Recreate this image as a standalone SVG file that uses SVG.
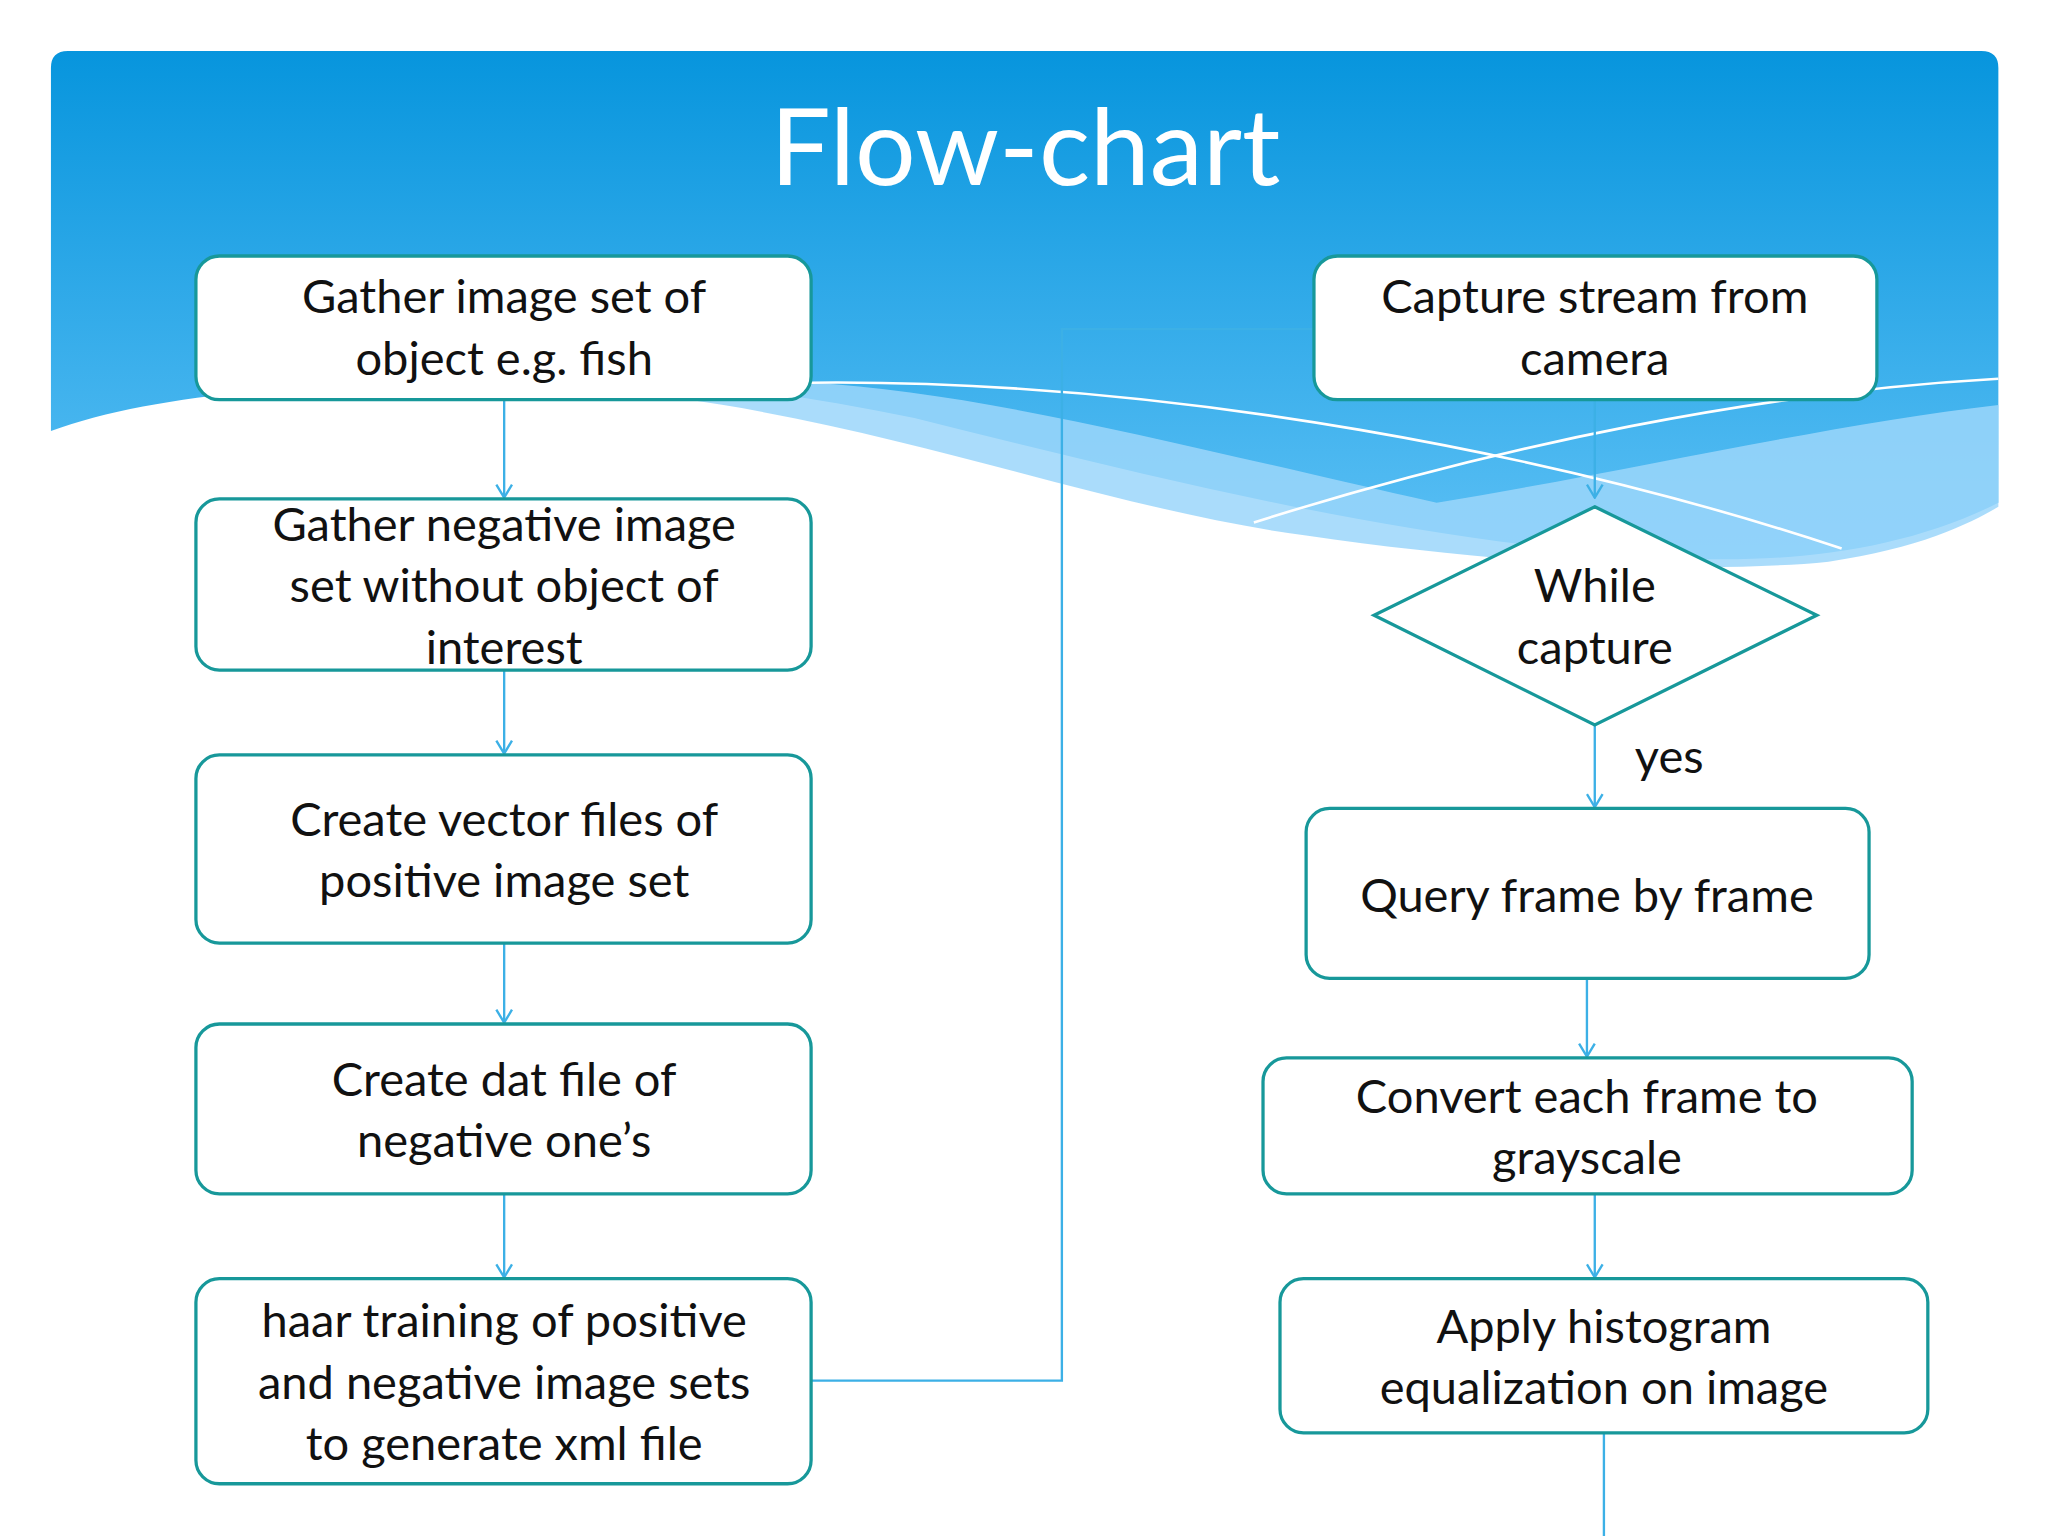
<svg xmlns="http://www.w3.org/2000/svg" width="2048" height="1536" viewBox="0 0 2048 1536">
<style>
.box{fill:#fff;stroke:#17989a;stroke-width:2.5}
.t{font-family:Lato,"Open Sans",sans-serif;font-size:36px;fill:#111;text-anchor:middle}
.c{fill:none;stroke:#3cb0e6;stroke-width:1.8}
</style>
<defs>
<linearGradient id="g" x1="0" y1="0" x2="0" y2="1">
<stop offset="0" stop-color="#0795dd"/><stop offset="1" stop-color="#5cc0f5"/>
</linearGradient>
<marker id="a" viewBox="0 0 12 14" refX="11" refY="7" markerWidth="12" markerHeight="14" markerUnits="userSpaceOnUse" orient="auto">
<path d="M1,1 L11,7 L1,13" fill="none" stroke="#3cb0e6" stroke-width="1.8"/>
</marker>
</defs>
<rect width="2048" height="1536" fill="#fff"/>
<g transform="scale(1.30612)">
<g id="background">
<path d="M39,52 Q39,39 52,39 L1517,39 Q1530,39 1530,52 L1530,385 C1460,420 1380,430 1300,428 C1100,420 900,370 700,320 C600,300 500,285 400,290 C250,292 120,300 39,330 Z" fill="url(#g)"/>
<path d="M520,305 C700,330 850,390 1000,410 C1150,432 1300,440 1400,430 C1470,420 1510,400 1530,388 L1530,310 C1400,325 1250,360 1100,385 C900,340 750,300 620,293 Z" fill="#9bd6fa" opacity="0.85"/>
<path d="M620,293 C900,290 1200,350 1410,420" fill="none" stroke="#fff" stroke-width="2"/>
<path d="M960,400 C1150,340 1350,300 1530,290" fill="none" stroke="#fff" stroke-width="2"/>
<text x="785" y="142" font-family="Lato,'Open Sans',sans-serif" font-size="82" fill="#fff" text-anchor="middle">Flow-chart</text>
</g>
<g id="connectors">
<line class="c" x1="386" y1="306" x2="386" y2="381" marker-end="url(#a)"/>
<line class="c" x1="386" y1="513" x2="386" y2="577" marker-end="url(#a)"/>
<line class="c" x1="386" y1="722" x2="386" y2="783" marker-end="url(#a)"/>
<line class="c" x1="386" y1="914" x2="386" y2="978" marker-end="url(#a)"/>
<polyline class="c" points="621,1057 813,1057 813,252 1006,252"/>
<line class="c" x1="1221" y1="306" x2="1221" y2="381" marker-end="url(#a)"/>
<line class="c" x1="1221" y1="555" x2="1221" y2="618" marker-end="url(#a)"/>
<line class="c" x1="1215" y1="749" x2="1215" y2="809" marker-end="url(#a)"/>
<line class="c" x1="1221" y1="914" x2="1221" y2="978" marker-end="url(#a)"/>
<line class="c" x1="1228" y1="1097" x2="1228" y2="1176"/>
<text class="t" x="1278" y="592">yes</text>
</g>
<g id="n1"><rect class="box" x="150" y="196" width="471" height="110" rx="18"/><text class="t" x="386" y="240">Gather image set of</text><text class="t" x="386" y="287">object e.g. fish</text></g>
<g id="n2"><rect class="box" x="150" y="382" width="471" height="131" rx="18"/><text class="t" x="386" y="414">Gather negative image</text><text class="t" x="386" y="461">set without object of</text><text class="t" x="386" y="508">interest</text></g>
<g id="n3"><rect class="box" x="150" y="578" width="471" height="144" rx="18"/><text class="t" x="386" y="640">Create vector files of</text><text class="t" x="386" y="687">positive image set</text></g>
<g id="n4"><rect class="box" x="150" y="784" width="471" height="130" rx="18"/><text class="t" x="386" y="839">Create dat file of</text><text class="t" x="386" y="886">negative one’s</text></g>
<g id="n5"><rect class="box" x="150" y="979" width="471" height="157" rx="18"/><text class="t" x="386" y="1024">haar training of positive</text><text class="t" x="386" y="1071">and negative image sets</text><text class="t" x="386" y="1118">to generate xml file</text></g>
<g id="n6"><rect class="box" x="1006" y="196" width="431" height="110" rx="18"/><text class="t" x="1221" y="240">Capture stream from</text><text class="t" x="1221" y="287">camera</text></g>
<g id="n7"><polygon class="box" points="1221,388 1391,471 1221,555 1052,471"/><text class="t" x="1221" y="461">While</text><text class="t" x="1221" y="508">capture</text></g>
<g id="n8"><rect class="box" x="1000" y="619" width="431" height="130" rx="18"/><text class="t" x="1215" y="698">Query frame by frame</text></g>
<g id="n9"><rect class="box" x="967" y="810" width="497" height="104" rx="18"/><text class="t" x="1215" y="852">Convert each frame to</text><text class="t" x="1215" y="899">grayscale</text></g>
<g id="n10"><rect class="box" x="980" y="979" width="496" height="118" rx="18"/><text class="t" x="1228" y="1028">Apply histogram</text><text class="t" x="1228" y="1075">equalization on image</text></g>
</g>
</svg>
